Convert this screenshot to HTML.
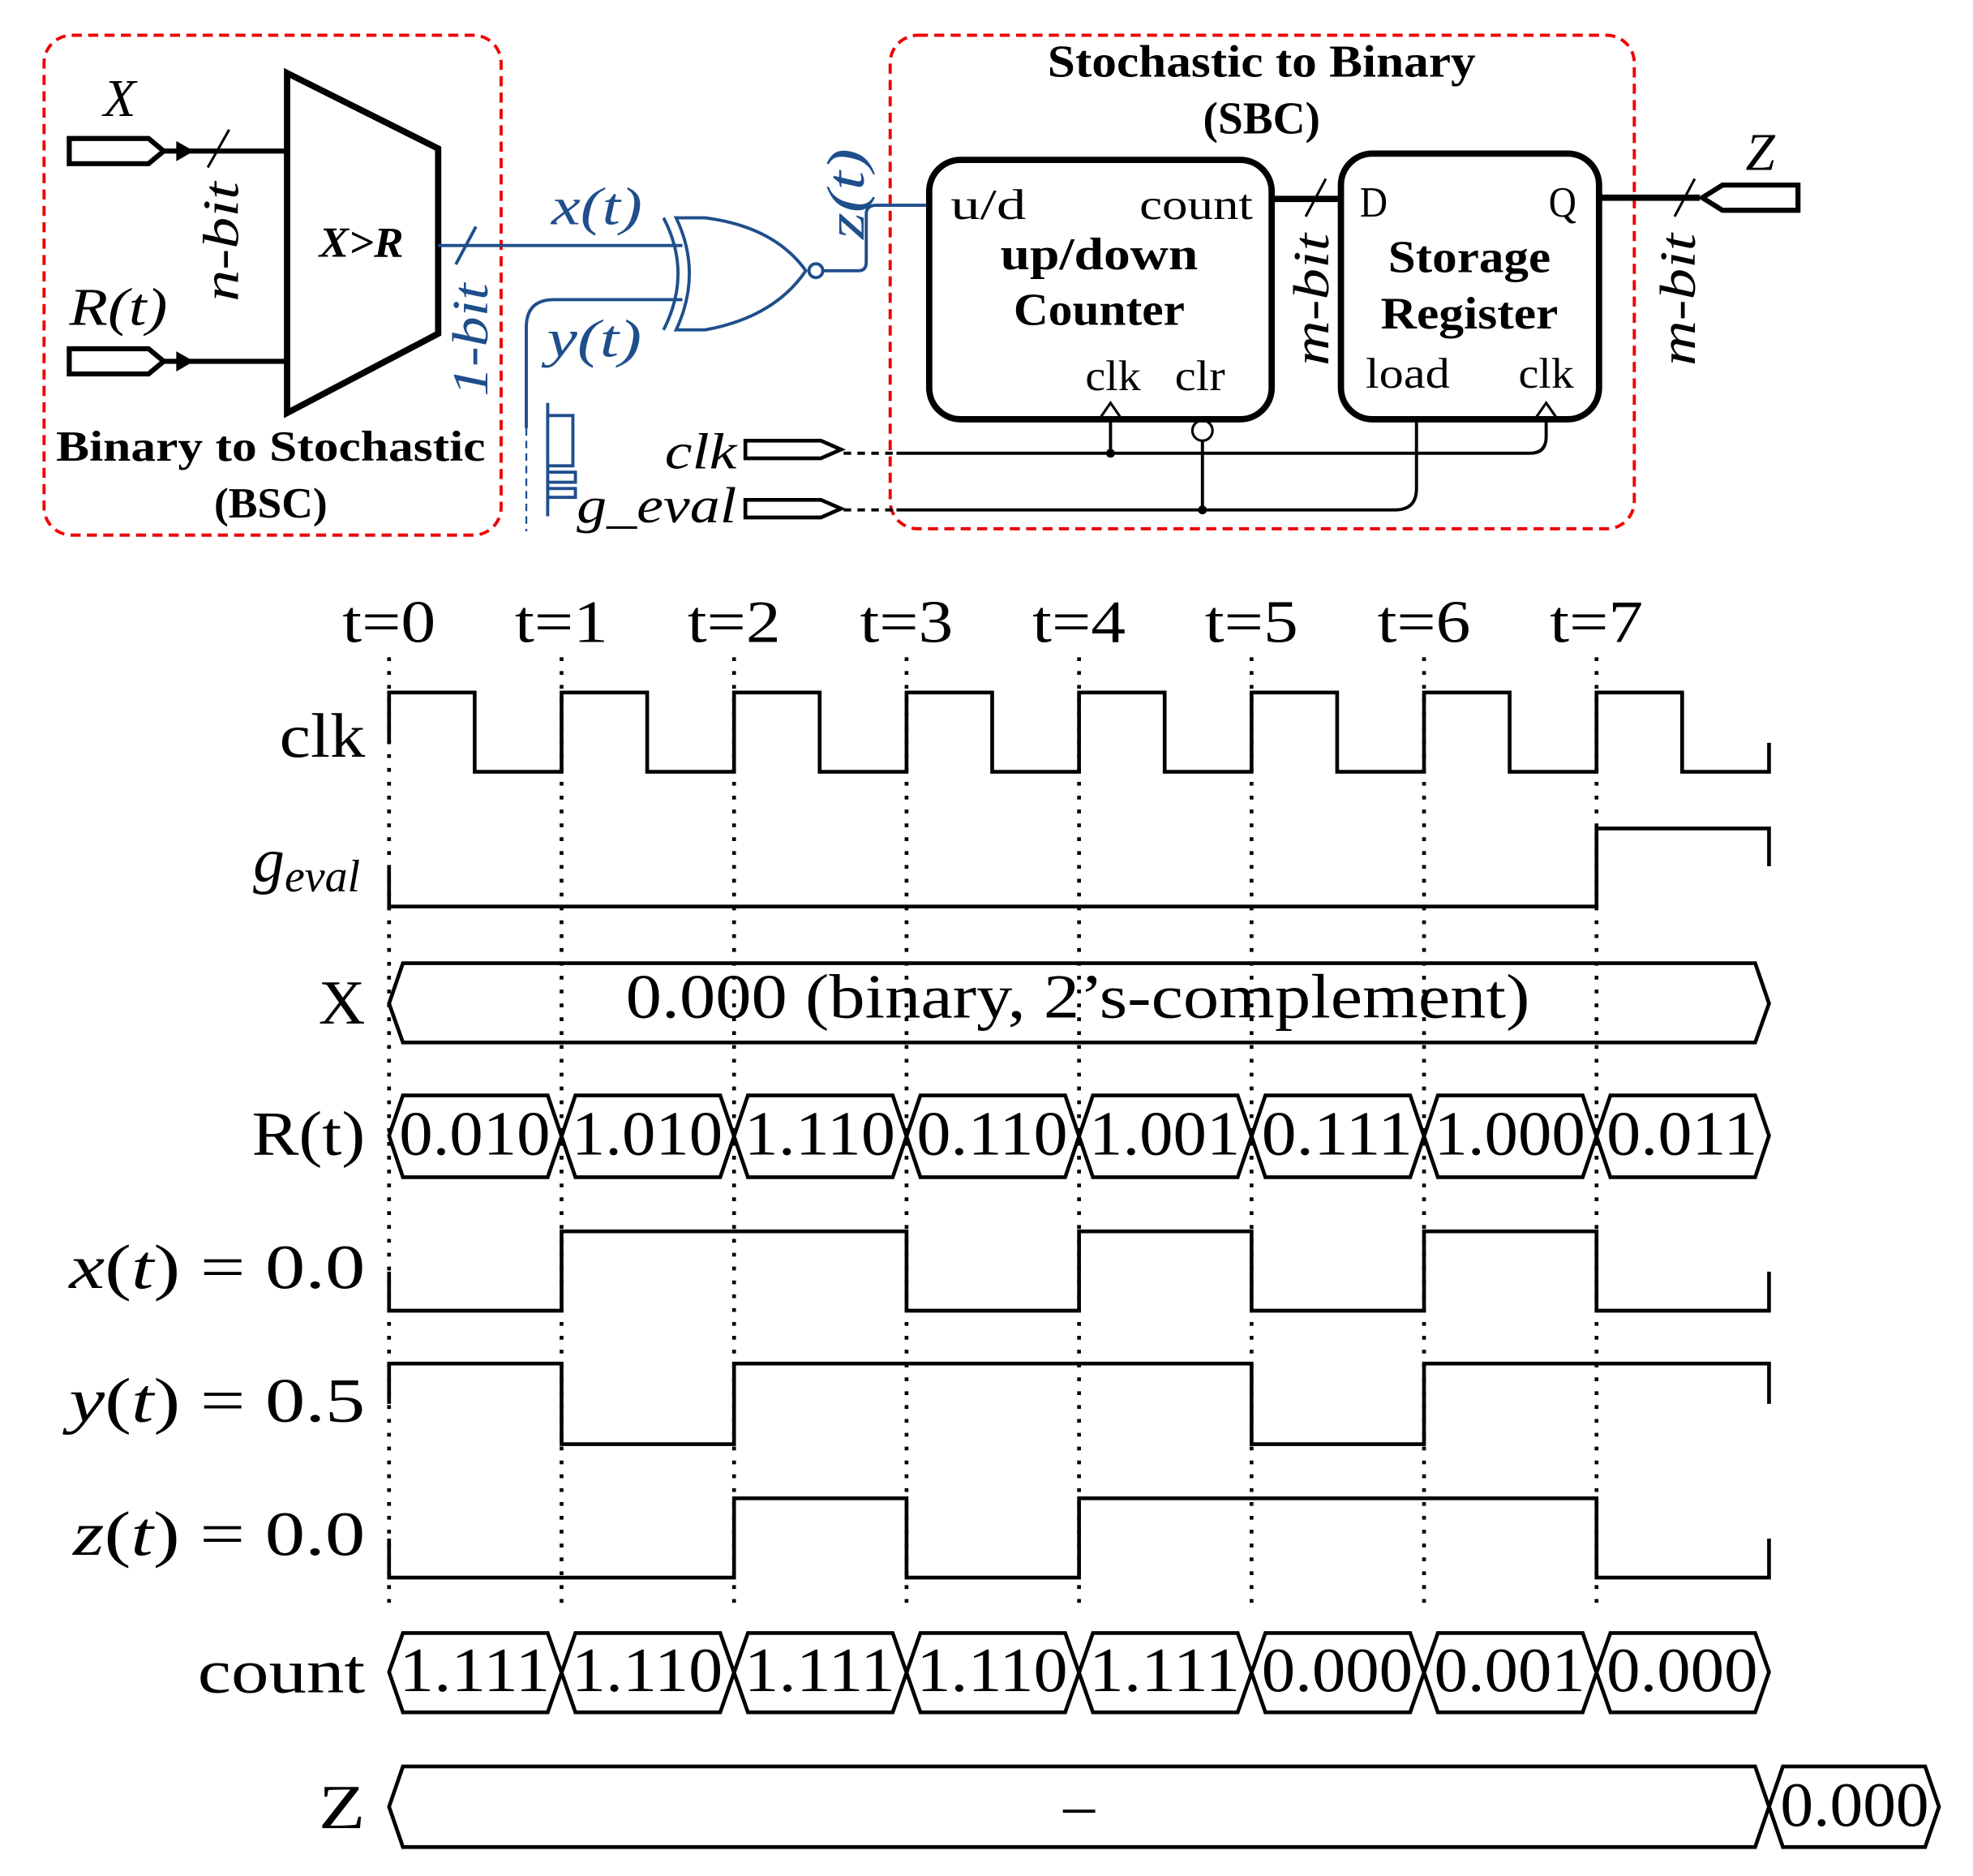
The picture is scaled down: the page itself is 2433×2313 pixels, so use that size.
<!DOCTYPE html>
<html><head><meta charset="utf-8"><style>html,body{margin:0;padding:0;background:#fff}svg{display:block}</style></head><body>
<svg width="2433" height="2313" viewBox="0 0 1567 1490" preserveAspectRatio="none" xmlns="http://www.w3.org/2000/svg">
<g font-family="Liberation Serif, serif" lengthAdjust="spacingAndGlyphs">
<rect x="35" y="28" width="363" height="397" rx="22" fill="none" stroke="#e00" stroke-width="2.5" stroke-dasharray="8,5"/>
<rect x="707" y="28" width="591" height="392" rx="22" fill="none" stroke="#e00" stroke-width="2.5" stroke-dasharray="8,5"/>
<text x="95" y="92" font-size="42" font-style="italic" text-anchor="middle">X</text>
<path d="M55,110 H118 L130,120 L118,130 H55 Z" fill="#fff" stroke="#000" stroke-width="4"/>
<path d="M130,120 H228" stroke="#000" stroke-width="4"/>
<path d="M140,112 L154,120 L140,128 Z" fill="#000"/>
<path d="M165,133 L182,103" stroke="#000" stroke-width="2"/>
<text x="94" y="258" font-size="42" font-style="italic" text-anchor="middle" textLength="78" lengthAdjust="spacingAndGlyphs">R(t)</text>
<path d="M55,277 H118 L130,287 L118,297 H55 Z" fill="#fff" stroke="#000" stroke-width="4"/>
<path d="M130,287 H228" stroke="#000" stroke-width="4"/>
<path d="M140,279 L154,287 L140,295 Z" fill="#000"/>
<text transform="translate(189,192) rotate(-90)" font-size="40" font-style="italic" text-anchor="middle" textLength="95" lengthAdjust="spacingAndGlyphs">n-bit</text>
<path d="M228,58 L348,118 V265 L228,328 Z" fill="#fff" stroke="#000" stroke-width="5"/>
<text x="287" y="204" font-size="34" font-weight="bold" font-style="italic" text-anchor="middle" textLength="67" lengthAdjust="spacingAndGlyphs">X&gt;R</text>
<text x="215" y="366" font-size="34" font-weight="bold" text-anchor="middle" textLength="341" lengthAdjust="spacingAndGlyphs">Binary to Stochastic</text>
<text x="215" y="411" font-size="34" font-weight="bold" text-anchor="middle" textLength="90" lengthAdjust="spacingAndGlyphs">(BSC)</text>
<g stroke="#1f4e8c" fill="none" stroke-width="2.5">
<path d="M348,195 H542"/>
<path d="M362,210 L378,180"/>
<path d="M418,340 V260 Q418,238 440,238 H542"/>
<path d="M418,340 V422" stroke-dasharray="6,4" stroke-width="1.5"/>
<path d="M527,173 Q550,217 527,262"/>
<path d="M537,173 H560 Q615,180 640,215 Q615,252 560,262 H537 Q558,217 537,173 Z"/>
<circle cx="648" cy="215" r="5.5"/>
<path d="M654,215 H682 Q688,215 688,208 V170 Q688,163 696,163 H738"/>
<path d="M435,320 V410 M435,330 H455 V370 H435 M435,375 H457 V383 H435 M435,388 H457 V395 H435"/>
</g>
<g fill="#1f4e8c" font-style="italic" lengthAdjust="spacingAndGlyphs">
<text x="474" y="178" font-size="42" text-anchor="middle" textLength="72" lengthAdjust="spacingAndGlyphs">x(t)</text>
<text x="472" y="283" font-size="42" text-anchor="middle" textLength="75" lengthAdjust="spacingAndGlyphs">y(t)</text>
<text transform="translate(686,154) rotate(-90)" font-size="42" text-anchor="middle" textLength="72" lengthAdjust="spacingAndGlyphs">z(t)</text>
<text transform="translate(387,270) rotate(-90)" font-size="40" text-anchor="middle" textLength="90" lengthAdjust="spacingAndGlyphs">1-bit</text>
</g>
<text x="585" y="372" font-size="40" font-style="italic" text-anchor="end" textLength="57" lengthAdjust="spacingAndGlyphs">clk</text>
<path d="M592,350 H652 L668,357 L652,364 H592 Z" fill="#fff" stroke="#000" stroke-width="3"/>
<text x="585" y="415" font-size="40" font-style="italic" text-anchor="end" textLength="127" lengthAdjust="spacingAndGlyphs">g_eval</text>
<path d="M592,397 H652 L668,404 L652,411 H592 Z" fill="#fff" stroke="#000" stroke-width="3"/>
<g stroke="#000" fill="none" stroke-width="2.5">
<path d="M670,360 H712" stroke-dasharray="6,5"/>
<path d="M670,405 H712" stroke-dasharray="6,5"/>
<path d="M712,360 H1215 Q1228,360 1228,347 V333"/>
<path d="M712,405 H1108 Q1125,405 1125,388 V333"/>
<path d="M882,360 V333"/>
<path d="M955,405 V350"/>
</g>
<circle cx="882" cy="360" r="3.5"/><circle cx="955" cy="405" r="3.5"/>
<circle cx="955" cy="342" r="8" fill="#fff" stroke="#000" stroke-width="2"/>
<rect x="738" y="127" width="272" height="206" rx="25" fill="#fff" stroke="#000" stroke-width="5"/>
<rect x="1065" y="122" width="205" height="211" rx="25" fill="#fff" stroke="#000" stroke-width="5"/>
<path d="M873,333 L882,320 L891,333 M1219,333 L1228,320 L1237,333" fill="none" stroke="#000" stroke-width="2"/>
<g font-size="34" text-anchor="middle">
<text x="785" y="174" textLength="60" lengthAdjust="spacingAndGlyphs">u/d</text>
<text x="950" y="174" textLength="90" lengthAdjust="spacingAndGlyphs">count</text>
<text x="884" y="310" textLength="44" lengthAdjust="spacingAndGlyphs">clk</text>
<text x="953" y="310" textLength="40" lengthAdjust="spacingAndGlyphs">clr</text>
<text x="1091" y="172" textLength="22" lengthAdjust="spacingAndGlyphs">D</text>
<text x="1241" y="172" textLength="22" lengthAdjust="spacingAndGlyphs">Q</text>
<text x="1118" y="308" textLength="67" lengthAdjust="spacingAndGlyphs">load</text>
<text x="1228" y="308" textLength="44" lengthAdjust="spacingAndGlyphs">clk</text>
</g>
<g font-size="36" font-weight="bold" text-anchor="middle">
<text x="873" y="214" textLength="157" lengthAdjust="spacingAndGlyphs">up/down</text>
<text x="873" y="258" textLength="136" lengthAdjust="spacingAndGlyphs">Counter</text>
<text x="1167" y="216" textLength="129" lengthAdjust="spacingAndGlyphs">Storage</text>
<text x="1167" y="261" textLength="141" lengthAdjust="spacingAndGlyphs">Register</text>
<text x="1002" y="61" textLength="340" lengthAdjust="spacingAndGlyphs">Stochastic to Binary</text>
<text x="1002" y="106" textLength="93" lengthAdjust="spacingAndGlyphs">(SBC)</text>
</g>
<path d="M1010,158 H1065 M1270,157 H1350" stroke="#000" stroke-width="5"/>
<path d="M1037,172 L1053,142 M1330,172 L1346,142" stroke="#000" stroke-width="2"/>
<path d="M1428,147 H1368 L1352,157 L1368,167 H1428 Z" fill="#fff" stroke="#000" stroke-width="4"/>
<text x="1398" y="135" font-size="42" font-style="italic" text-anchor="middle">Z</text>
<text transform="translate(1055,238) rotate(-90)" font-size="40" font-style="italic" text-anchor="middle" textLength="105" lengthAdjust="spacingAndGlyphs">m-bit</text>
<text transform="translate(1346,238) rotate(-90)" font-size="40" font-style="italic" text-anchor="middle" textLength="105" lengthAdjust="spacingAndGlyphs">m-bit</text>

<g font-size="48" text-anchor="middle">
<text x="309" y="510" textLength="74" lengthAdjust="spacingAndGlyphs">t=0</text><text x="446" y="510" textLength="74" lengthAdjust="spacingAndGlyphs">t=1</text><text x="583" y="510" textLength="74" lengthAdjust="spacingAndGlyphs">t=2</text><text x="720" y="510" textLength="74" lengthAdjust="spacingAndGlyphs">t=3</text><text x="857" y="510" textLength="74" lengthAdjust="spacingAndGlyphs">t=4</text><text x="994" y="510" textLength="74" lengthAdjust="spacingAndGlyphs">t=5</text><text x="1131" y="510" textLength="74" lengthAdjust="spacingAndGlyphs">t=6</text><text x="1268" y="510" textLength="74" lengthAdjust="spacingAndGlyphs">t=7</text>
</g>
<g stroke="#000" stroke-width="3" stroke-dasharray="3,8" fill="none">
<path d="M309,522 V1275 M446,522 V1275 M583,522 V1275 M720,522 V1275 M857,522 V1275 M994,522 V1275 M1131,522 V1275 M1268,522 V1275"/>
</g>
<g stroke="#000" stroke-width="3" fill="none">
<path d="M309,590 V550 H377 V613 H446 V550 H514 V613 H583 V550 H651 V613 H720 V550 H788 V613 H857 V550 H925 V613 H994 V550 H1062 V613 H1131 V550 H1199 V613 H1268 V550 H1336 V613 H1405 V590"/>
<path d="M309,690 V720 H1268 V658 H1405 V688"/>
<path d="M309,1010 V1041 H446 V978 H720 V1041 H857 V978 H994 V1041 H1131 V978 H1268 V1041 H1405 V1010"/>
<path d="M309,1115 V1083 H446 V1147 H583 V1083 H994 V1147 H1131 V1083 H1405 V1115"/>
<path d="M309,1222 V1253 H583 V1190 H720 V1253 H857 V1190 H1268 V1253 H1405 V1222"/>
<path d="M309,797 L320,765 H1394 L1405,797 L1394,828 H320 Z"/>
<path d="M309,902 L320,870 H435 L457,935 H572 L594,870 H709 L731,935 H846 L868,870 H983 L1005,935 H1120 L1142,870 H1257 L1279,935 H1394 L1405,902 L1394,870 H1279 L1257,935 H1142 L1120,870 H1005 L983,935 H868 L846,870 H731 L709,935 H594 L572,870 H457 L435,935 H320 Z"/>
<path d="M309,1328 L320,1297 H435 L457,1360 H572 L594,1297 H709 L731,1360 H846 L868,1297 H983 L1005,1360 H1120 L1142,1297 H1257 L1279,1360 H1394 L1405,1328 L1394,1297 H1279 L1257,1360 H1142 L1120,1297 H1005 L983,1360 H868 L846,1297 H731 L709,1360 H594 L572,1297 H457 L435,1360 H320 Z"/>
<path d="M309,1435 L320,1403 H1394 L1416,1467 H1529 L1540,1435 L1529,1403 H1416 L1394,1467 H320 Z"/>
</g>
<g font-size="50" text-anchor="end">
<text x="290" y="601" textLength="68" lengthAdjust="spacingAndGlyphs">clk</text>
<text x="290" y="813" textLength="37" lengthAdjust="spacingAndGlyphs">X</text>
<text x="290" y="917" textLength="90" lengthAdjust="spacingAndGlyphs">R(t)</text>
<text x="290" y="1344" textLength="133" lengthAdjust="spacingAndGlyphs">count</text>
<text x="290" y="1452" textLength="37" lengthAdjust="spacingAndGlyphs">Z</text>
<text x="286" y="700" font-style="italic">g<tspan font-size="36" dy="8">eval</tspan></text>
<text x="290" y="1023" textLength="235" lengthAdjust="spacingAndGlyphs"><tspan font-style="italic">x</tspan>(<tspan font-style="italic">t</tspan>) = 0.0</text>
<text x="290" y="1129" textLength="235" lengthAdjust="spacingAndGlyphs"><tspan font-style="italic">y</tspan>(<tspan font-style="italic">t</tspan>) = 0.5</text>
<text x="290" y="1235" textLength="232" lengthAdjust="spacingAndGlyphs"><tspan font-style="italic">z</tspan>(<tspan font-style="italic">t</tspan>) = 0.0</text>
</g>
<g font-size="50" text-anchor="middle">
<text x="856" y="808" textLength="718" lengthAdjust="spacingAndGlyphs">0.000 (binary, 2’s-complement)</text>
<text x="857" y="1450">–</text>
<text x="1473" y="1450" textLength="118" lengthAdjust="spacingAndGlyphs">0.000</text>
</g>
<g font-size="50" text-anchor="middle">
<text x="377" y="917" textLength="120" lengthAdjust="spacingAndGlyphs">0.010</text><text x="514" y="917" textLength="120" lengthAdjust="spacingAndGlyphs">1.010</text><text x="651" y="917" textLength="120" lengthAdjust="spacingAndGlyphs">1.110</text><text x="788" y="917" textLength="120" lengthAdjust="spacingAndGlyphs">0.110</text><text x="925" y="917" textLength="120" lengthAdjust="spacingAndGlyphs">1.001</text><text x="1062" y="917" textLength="120" lengthAdjust="spacingAndGlyphs">0.111</text><text x="1199" y="917" textLength="120" lengthAdjust="spacingAndGlyphs">1.000</text><text x="1336" y="917" textLength="120" lengthAdjust="spacingAndGlyphs">0.011</text>
<text x="377" y="1343" textLength="120" lengthAdjust="spacingAndGlyphs">1.111</text><text x="514" y="1343" textLength="120" lengthAdjust="spacingAndGlyphs">1.110</text><text x="651" y="1343" textLength="120" lengthAdjust="spacingAndGlyphs">1.111</text><text x="788" y="1343" textLength="120" lengthAdjust="spacingAndGlyphs">1.110</text><text x="925" y="1343" textLength="120" lengthAdjust="spacingAndGlyphs">1.111</text><text x="1062" y="1343" textLength="120" lengthAdjust="spacingAndGlyphs">0.000</text><text x="1199" y="1343" textLength="120" lengthAdjust="spacingAndGlyphs">0.001</text><text x="1336" y="1343" textLength="120" lengthAdjust="spacingAndGlyphs">0.000</text>
</g>
</g>
</svg>
</body></html>
